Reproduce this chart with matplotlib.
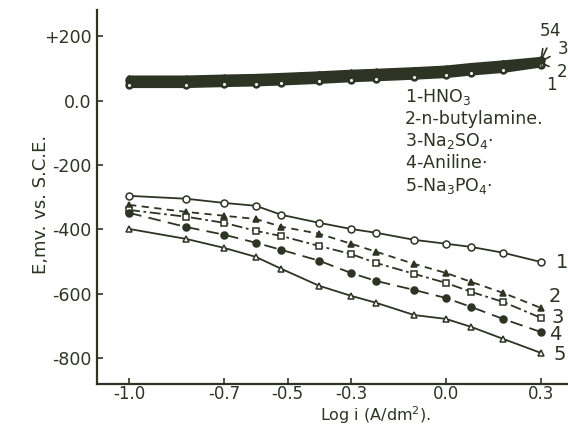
#!/usr/bin/env python3
"""Polarisation curves: E (mV vs SCE) against log current density."""
import matplotlib
matplotlib.use('Agg')
import matplotlib.pyplot as plt

# current density, log i (A/dm^2)
log_i = [-1.0, -0.82, -0.70, -0.60, -0.52, -0.40, -0.30, -0.22, -0.10, 0.0, 0.08, 0.18, 0.30]

# anodic branch (upper band), mV vs SCE
anodic_1 = [48, 48, 51, 53, 56, 61, 66, 69, 74, 79, 87, 95, 112]
anodic_2 = [54, 54, 57, 59, 62, 67, 72, 75, 80, 85, 93, 101, 118]
anodic_3 = [60, 60, 63, 65, 68, 73, 78, 81, 86, 91, 99, 107, 122]
anodic_4 = [66, 66, 69, 71, 74, 79, 84, 87, 92, 97, 105, 113, 126]
anodic_5 = [70, 70, 73, 75, 78, 83, 88, 91, 96, 101, 109, 117, 128]

# cathodic branch (lower curves), mV vs SCE
cathodic_1 = [-296, -305, -318, -327, -355, -380, -399, -411, -433, -445, -455, -473, -502]
cathodic_2 = [-324, -346, -358, -368, -392, -414, -445, -470, -508, -536, -564, -598, -645]
cathodic_3 = [-340, -361, -380, -405, -421, -452, -477, -505, -539, -567, -595, -626, -676]
cathodic_4 = [-349, -393, -417, -442, -464, -498, -536, -561, -589, -614, -642, -679, -720]
cathodic_5 = [-399, -430, -458, -486, -523, -576, -607, -629, -667, -679, -704, -741, -785]

media = ['1-HNO$_3$', '2-n-butylamine.', '3-Na$_2$SO$_4$$\\cdot$',
         '4-Aniline$\\cdot$', '5-Na$_3$PO$_4$$\\cdot$']

y_ticks = [200, 0, -200, -400, -600, -800]
y_tick_labels = ['+200', '0.0', '-200', '-400', '-600', '-800']
x_ticks = [-1.0, -0.7, -0.5, -0.3, 0.0, 0.3]
x_tick_labels = ['-1.0', '-0.7', '-0.5', '-0.3', '0.0', '0.3']

INK = '#2e3424'

fig = plt.figure(figsize=(5.68, 4.26), dpi=100)
ax = fig.add_axes([0.171, 0.099, 0.829, 0.878])

# line style and marker for each medium
styles = [
    dict(ls='-', marker='o', mfc='white'),
    dict(ls=(0, (4, 3)), marker='^', mfc=INK),
    dict(ls=(0, (6, 2, 1.5, 2)), marker='s', mfc='white'),
    dict(ls=(0, (7, 4)), marker='o', mfc=INK),
    dict(ls='-', marker='^', mfc='white'),
]

anodic = [anodic_1, anodic_2, anodic_3, anodic_4, anodic_5]
cathodic = [cathodic_1, cathodic_2, cathodic_3, cathodic_4, cathodic_5]

for st, ya in zip(styles, anodic):
    ax.plot(log_i, ya, color=INK, lw=4.0, ls='-', marker=st['marker'],
            ms=5, mfc=INK, mec=INK, solid_capstyle='round')
# open circles of curve 1 along the lower edge of the band
ax.plot(log_i, anodic_1, ls='none', marker='o', ms=3, mfc='white', mec=INK, mew=0.8)

for st, yc in zip(styles, cathodic):
    ax.plot(log_i, yc, color=INK, lw=1.3, ls=st['ls'], marker=st['marker'],
            ms=5, mfc=st['mfc'], mec=INK, mew=1.1)

# curve numbers at the right-hand ends
lower_label_pos = [(0.347, -502), (0.325, -610), (0.332, -676), (0.325, -729), (0.34, -791)]
for k, (tx, ty) in enumerate(lower_label_pos):
    ax.text(tx, ty, str(k + 1), color=INK, fontsize=14, va='center', ha='left',
            clip_on=False)

upper_label_pos = [(0.315, 50), (0.35, 88), (0.352, 160), (0.327, 216), (0.297, 216)]
for k, (tx, ty) in enumerate(upper_label_pos):
    ax.annotate(str(k + 1), xy=(log_i[-1], anodic[k][-1]), xytext=(tx, ty),
                color=INK, fontsize=12, ha='left', va='center',
                arrowprops=dict(arrowstyle='-', color=INK, lw=1.2,
                                shrinkA=4, shrinkB=0),
                annotation_clip=False)

# key of media
for k, name in enumerate(media):
    ax.text(-0.13, 12 - k * 69, name, color=INK, fontsize=12.5, va='center', ha='left')

ax.set_xlim(-1.101, 0.385)
ax.set_ylim(-881, 283)
ax.set_xticks(x_ticks)
ax.set_xticklabels(x_tick_labels)
ax.set_yticks(y_ticks)
ax.set_yticklabels(y_tick_labels)
ax.tick_params(direction='in', length=4, width=1.2, colors=INK, labelsize=12.5, pad=4)
ax.tick_params(axis='x', pad=1, labelsize=12)

for side in ['top', 'right']:
    ax.spines[side].set_visible(False)
for side in ['left', 'bottom']:
    ax.spines[side].set_linewidth(1.6)
    ax.spines[side].set_color(INK)

fig.text(0.072, 0.52, 'E,mv. vs. S.C.E.', rotation=90, color=INK, fontsize=13,
         ha='center', va='center')
fig.text(0.662, 0.0, 'Log i (A/dm$^2$).', color=INK, fontsize=11.5,
         ha='center', va='bottom')

fig.savefig('out.png', dpi=100, facecolor='white')
